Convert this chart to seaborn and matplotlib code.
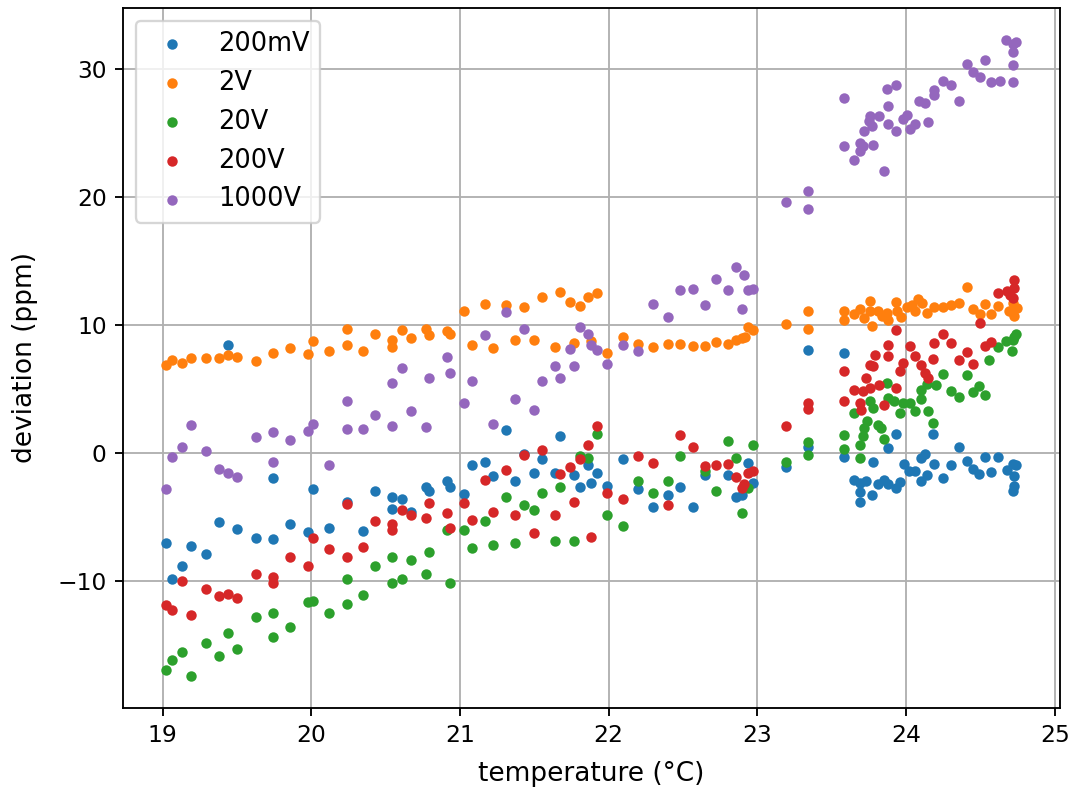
import matplotlib
matplotlib.use("Agg")
import matplotlib.pyplot as plt
import seaborn as sns

# 200 mV range
t_200mv = [19.44, 19.02, 19.06, 19.13, 19.19, 19.29, 19.38, 19.50, 19.63, 19.74, 19.74, 19.86,
           19.98, 20.01, 20.12, 20.24, 20.35, 20.43, 20.54, 20.54, 20.61, 20.67, 20.77, 20.79,
           20.91, 20.93, 21.03, 21.08, 21.17, 21.22, 21.31, 21.37, 21.43, 21.50, 21.55, 21.64,
           21.67, 21.77, 21.81, 21.86, 21.88, 21.92, 21.99, 22.10, 22.20, 22.30, 22.40, 22.48,
           22.57, 22.65, 22.80, 22.86, 22.90, 22.94, 22.97, 23.19, 23.34, 23.34,
           23.58, 23.58, 23.78, 23.88, 23.93, 24.18, 23.65, 23.69, 23.69, 23.69, 23.73, 23.77,
           23.81, 23.85, 23.88, 23.93, 23.96, 23.99, 24.02, 24.06, 24.10, 24.13, 24.10, 24.14,
           24.19, 24.25, 24.30, 24.36, 24.41, 24.45, 24.49, 24.53, 24.57, 24.62, 24.68, 24.72,
           24.73, 24.73, 24.72, 24.74]
d_200mv = [8.41, -7.08, -9.82, -8.85, -7.27, -7.94, -5.39, -5.96, -6.64, -1.95, -6.74, -5.55,
           -6.17, -2.81, -5.86, -3.85, -6.07, -2.99, -3.46, -4.38, -3.57, -4.60, -2.68, -3.00,
           -2.16, -2.68, -3.20, -0.96, -0.70, -1.82, 1.80, -2.21, -0.05, -1.54, -0.44, -1.54,
           1.33, -1.74, -2.68, -0.91, -2.34, -1.61, -2.60, -0.44, -2.81, -4.19, -3.31, -2.63,
           -4.19, -1.74, -1.74, -3.41, -3.26, -0.81, -2.34, -1.09, 0.47, 8.02,
           7.81, -0.34, -0.70, 0.39, 1.48, 1.48, -2.08, -2.34, -3.05, -3.83, -2.21, -3.26,
           -2.47, -2.08, -2.47, -2.73, -2.27, -0.86, -1.43, -1.38, -0.39, -0.08, -2.16, -1.69,
           -0.86, -2.00, -0.96, 0.44, -0.60, -1.22, -1.64, -0.34, -1.48, -0.34, -1.30, -0.86,
           -1.82, -2.60, -3.00, -0.91]

# 2 V range
t_2v = [19.02, 19.06, 19.13, 19.19, 19.29, 19.38, 19.44, 19.50, 19.63, 19.74, 19.86, 19.98,
        20.01, 20.12, 20.24, 20.24, 20.35, 20.43, 20.54, 20.54, 20.61, 20.67, 20.77, 20.79,
        20.91, 20.93, 21.03, 21.08, 21.17, 21.22, 21.31, 21.37, 21.43, 21.50, 21.55, 21.64,
        21.67, 21.74, 21.77, 21.81, 21.86, 21.88, 21.92, 21.99, 22.10, 22.20, 22.30, 22.40,
        22.48, 22.57, 22.65, 22.72, 22.80, 22.86, 22.90, 22.92, 22.94, 22.97, 23.19, 23.34,
        23.34, 23.58, 23.58, 23.65, 23.69, 23.72, 23.76, 23.76, 23.77, 23.81, 23.84, 23.87,
        23.88, 23.93, 23.94, 23.97, 24.01, 24.04, 24.06, 24.08, 24.11, 24.14, 24.19, 24.25,
        24.30, 24.36, 24.41, 24.45, 24.50, 24.53, 24.57, 24.62, 24.69, 24.72, 24.73, 24.75]
d_2v = [6.85, 7.24, 7.03, 7.42, 7.42, 7.42, 7.63, 7.53, 7.21, 7.79, 8.20, 7.73,
        8.72, 8.00, 9.71, 8.41, 8.00, 9.30, 8.86, 8.26, 9.61, 9.00, 9.66, 9.24,
        9.50, 9.30, 11.07, 8.41, 11.64, 8.23, 11.59, 8.80, 11.38, 8.83, 12.16, 8.26,
        12.58, 11.77, 8.60, 11.46, 12.16, 8.77, 12.47, 7.81, 9.04, 8.54, 8.26, 8.52,
        8.52, 8.33, 8.38, 8.67, 8.52, 8.80, 8.98, 9.04, 9.84, 9.63, 10.08, 11.07,
        9.71, 11.07, 10.42, 10.86, 11.25, 10.55, 11.90, 11.07, 9.90, 11.07, 10.68, 10.94,
        10.42, 11.80, 11.07, 10.60, 11.41, 11.54, 11.07, 12.06, 11.72, 10.94, 11.38, 11.41,
        11.54, 11.69, 12.94, 11.28, 10.86, 11.64, 10.86, 11.46, 11.07, 11.72, 10.68, 11.33]

# 20 V range
t_20v = [19.02, 19.06, 19.13, 19.19, 19.29, 19.38, 19.44, 19.50, 19.63, 19.74, 19.74, 19.86,
         19.98, 20.01, 20.12, 20.24, 20.24, 20.35, 20.43, 20.54, 20.54, 20.61, 20.67, 20.79,
         20.77, 20.93, 20.91, 21.03, 21.08, 21.17, 21.22, 21.31, 21.37, 21.43, 21.50, 21.55,
         21.64, 21.67, 21.77, 21.81, 21.86, 21.92, 21.99, 22.10, 22.20, 22.30, 22.40, 22.48,
         22.65, 22.72, 22.80, 22.86, 22.90, 22.94, 22.97, 23.19, 23.34, 23.34,
         23.58, 23.58, 23.65, 23.69, 23.69, 23.71, 23.72, 23.74, 23.76, 23.78, 23.81, 23.83,
         23.85, 23.87, 23.88, 23.92, 23.96, 23.98, 24.03, 24.06, 24.10, 24.10, 24.14, 24.15,
         24.18, 24.20, 24.25, 24.30, 24.36, 24.41, 24.45, 24.49, 24.53, 24.56, 24.62, 24.67,
         24.71, 24.72, 24.74, 24.73]
d_20v = [-16.93, -16.22, -15.55, -17.45, -14.87, -15.86, -14.06, -15.36, -12.84, -12.50, -14.40, -13.59,
         -11.64, -11.54, -12.50, -11.80, -9.82, -11.12, -8.85, -8.15, -10.18, -9.84, -8.38, -7.76,
         -9.45, -10.20, -5.99, -5.99, -7.47, -5.34, -7.16, -3.41, -7.06, -4.09, -4.50, -3.13,
         -6.90, -2.63, -6.90, -0.26, -0.39, 1.48, -4.87, -5.73, -2.21, -3.13, -2.21, -0.26,
         -1.43, -3.00, 0.91, -0.39, -4.69, -2.73, 0.60, -0.73, 0.83, -0.13,
         1.43, 0.34, 3.13, 0.65, -0.39, 1.30, 1.95, 2.47, 4.04, 3.52, 2.21, 1.95,
         1.12, 5.47, 4.30, 4.04, 3.13, 3.90, 3.90, 3.26, 4.95, 4.24, 5.39, 3.31,
         2.34, 5.34, 6.17, 4.87, 4.35, 6.12, 4.77, 5.21, 4.56, 7.29, 8.26, 8.72,
         8.00, 8.85, 9.30, 9.04]

# 200 V range
t_200v = [19.02, 19.06, 19.13, 19.19, 19.29, 19.38, 19.44, 19.50, 19.63, 19.74, 19.74, 19.86,
          19.98, 20.01, 20.12, 20.24, 20.24, 20.35, 20.43, 20.54, 20.54, 20.61, 20.67, 20.77,
          20.79, 20.91, 20.93, 21.03, 21.08, 21.17, 21.22, 21.31, 21.37, 21.43, 21.50, 21.55,
          21.64, 21.67, 21.74, 21.77, 21.81, 21.86, 21.88, 21.92, 21.99, 22.10, 22.20, 22.30,
          22.40, 22.48, 22.57, 22.65, 22.72, 22.80, 22.86, 22.90, 22.91, 22.94, 22.97, 23.19,
          23.34, 23.34,
          23.58, 23.58, 23.65, 23.69, 23.70, 23.71, 23.73, 23.76, 23.76, 23.78, 23.79, 23.82,
          23.85, 23.88, 23.88, 23.93, 23.93, 23.96, 23.98, 24.03, 24.06, 24.10, 24.13, 24.15,
          24.18, 24.19, 24.25, 24.30, 24.36, 24.41, 24.45, 24.50, 24.53, 24.57, 24.62, 24.68,
          24.72, 24.73, 24.73, 24.70]
d_200v = [-11.85, -12.29, -10.03, -12.68, -10.60, -11.17, -11.02, -11.33, -9.45, -9.71, -10.13, -8.15,
          -8.83, -6.69, -7.53, -3.98, -8.15, -7.37, -5.34, -5.55, -5.99, -4.50, -4.82, -5.08,
          -3.93, -4.71, -5.86, -3.93, -5.21, -2.08, -4.61, -1.33, -4.87, -0.13, -6.25, 0.23,
          -4.87, -1.64, -1.07, -3.83, -0.44, 0.65, -6.59, 2.14, -3.13, -3.59, -0.26, -0.78,
          -4.09, 1.43, 0.44, -1.04, -0.91, -0.86, -1.90, -2.73, -2.42, -1.56, -1.38, 2.14,
          3.90, 3.46,
          6.43, 4.09, 4.95, 3.90, 3.38, 4.82, 5.86, 6.90, 5.08, 6.77, 7.68, 5.34,
          3.72, 7.55, 8.41, 5.08, 9.63, 6.38, 7.03, 8.33, 7.55, 6.90, 6.25, 5.86,
          7.37, 8.59, 9.30, 8.59, 7.29, 7.89, 6.95, 10.16, 8.33, 8.67, 12.50, 12.63,
          12.11, 12.89, 13.54, 12.37]

# 1000 V range
t_1000v = [19.02, 19.06, 19.13, 19.19, 19.29, 19.38, 19.44, 19.50, 19.63, 19.74, 19.74, 19.86,
           19.98, 20.01, 20.12, 20.24, 20.24, 20.35, 20.43, 20.54, 20.54, 20.61, 20.67, 20.77,
           20.79, 20.91, 20.93, 21.03, 21.08, 21.17, 21.22, 21.31, 21.37, 21.43, 21.50, 21.55,
           21.64, 21.67, 21.74, 21.77, 21.81, 21.86, 21.88, 21.92, 21.99, 22.10, 22.20, 22.30,
           22.40, 22.48, 22.57, 22.65, 22.72, 22.80, 22.86, 22.90, 22.91, 22.94, 22.97, 23.19,
           23.34, 23.34,
           23.58, 23.58, 23.65, 23.69, 23.69, 23.71, 23.72, 23.75, 23.76, 23.78, 23.77, 23.82,
           23.85, 23.87, 23.88, 23.88, 23.93, 23.93, 23.98, 24.01, 24.03, 24.06, 24.09, 24.13,
           24.15, 24.19, 24.19, 24.25, 24.30, 24.36, 24.41, 24.45, 24.50, 24.53, 24.57, 24.63,
           24.67, 24.72, 24.74, 24.72, 24.72, 24.72]
d_1000v = [-2.81, -0.34, 0.44, 2.21, 0.18, -1.25, -1.61, -1.88, 1.22, 1.64, -0.70, 1.04,
           1.69, 2.29, -0.91, 4.09, 1.90, 1.90, 3.00, 5.47, 2.11, 6.64, 3.31, 2.00,
           5.86, 7.47, 6.25, 3.90, 5.65, 9.19, 2.29, 10.99, 4.24, 9.71, 3.38, 5.65,
           6.77, 5.86, 8.15, 6.77, 9.82, 9.30, 8.41, 8.02, 6.95, 8.41, 7.94, 11.67,
           10.60, 12.76, 12.84, 11.59, 13.62, 12.76, 14.53, 11.28, 13.93, 12.71, 12.84, 19.58,
           20.44, 19.06,
           27.73, 24.01, 22.92, 23.56, 24.22, 23.96, 25.18, 25.91, 26.30, 24.09, 25.52, 26.35,
           22.01, 28.46, 27.08, 25.70, 28.77, 25.18, 26.09, 26.43, 25.34, 25.70, 27.52, 27.34,
           25.86, 28.38, 27.99, 29.09, 28.72, 27.47, 30.41, 29.77, 29.35, 30.73, 28.96, 29.03,
           32.29, 31.95, 32.10, 31.33, 30.34, 28.96]

series = [
    ("200mV", t_200mv, d_200mv),
    ("2V", t_2v, d_2v),
    ("20V", t_20v, d_20v),
    ("200V", t_200v, d_200v),
    ("1000V", t_1000v, d_1000v),
]

dpi = 168
fig = plt.figure(figsize=(1075 / dpi, 790 / dpi), dpi=dpi)
ax = fig.add_axes([0.1144, 0.1038, 0.8717, 0.8862])

for name, temps, devs in series:
    sns.scatterplot(x=temps, y=devs, label=name, s=20, linewidth=0, ax=ax)

ax.grid(True)
ax.set_axisbelow(True)
ax.set_xlabel("temperature (°C)", fontsize=11.3, labelpad=6)
ax.set_ylabel("deviation (ppm)", fontsize=11.3, labelpad=8.5)
ax.legend(loc="upper left", fontsize=11)

fig.savefig("out.png", dpi=dpi)
